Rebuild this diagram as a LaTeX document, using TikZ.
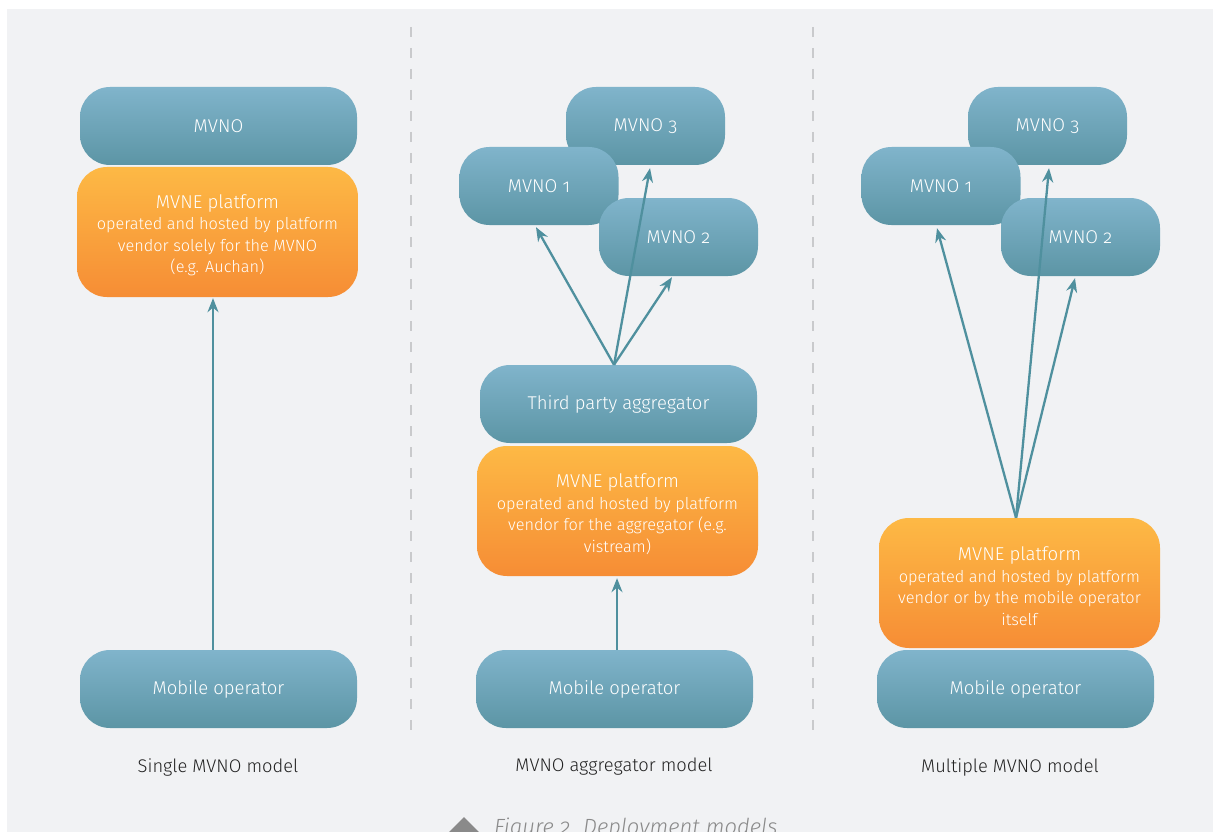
\documentclass[tikz,border=0pt]{standalone}
\usepackage{fontspec}
\setmainfont{Fira Sans Light}[Numbers=OldStyle]
\usetikzlibrary{arrows.meta}
\definecolor{bg}{HTML}{F1F2F4}
\definecolor{btop}{HTML}{80B4CB}
\definecolor{bbot}{HTML}{5C95A5}
\definecolor{otop}{HTML}{FDB945}
\definecolor{obot}{HTML}{F68D35}
\definecolor{arrc}{HTML}{4F909E}
\definecolor{dashc}{HTML}{C9CACC}
\definecolor{capc}{HTML}{222222}
\definecolor{figc}{HTML}{8A8A8A}
\tikzset{
 box/.style={rounded corners=30pt, text=white, align=center, inner sep=0pt, font=\fontsize{18.5}{22}\selectfont},
 bluebox/.style={box, top color=btop, bottom color=bbot, minimum width=277pt, minimum height=78pt},
 smallbox/.style={box, top color=btop, bottom color=bbot, minimum width=159pt, minimum height=78pt},
 orangebox/.style={box, top color=otop, bottom color=obot, minimum width=281pt, minimum height=130pt, font=\fontsize{16.3}{21.5}\selectfont},
 conn/.style={draw=arrc, line width=2.3pt, -{Stealth[length=14pt,width=11pt]}},
 sepline/.style={draw=dashc, line width=2.5pt, dash pattern=on 10pt off 11pt},
 lbl/.style={text=capc, font=\fontsize{18.3}{21}\selectfont},
}
\newcommand{\mvnehead}[1]{{\fontsize{18.6}{24}\selectfont\rule{0pt}{20pt}#1}}
\begin{document}
\begin{tikzpicture}[x=1pt,y=-1pt]
\useasboundingbox (0,0) rectangle (1213,832);
\clip (0,0) rectangle (1213,832);
\fill[white] (0,0) rectangle (1213,832);
\fill[bg] (7,9) rectangle (1213,832);
% separators
\coordinate (d1a) at (411,27); \coordinate (d1b) at (411,735);
\coordinate (d2a) at (813,27); \coordinate (d2b) at (813,735);
\draw[sepline] (d1a) -- (d1b);
\draw[sepline] (d2a) -- (d2b);
% column 1
\node[bluebox] (mv1) at (218.5,126) {MVNO};
\node[orangebox] (mvne1) at (217.5,232) {\mvnehead{MVNE platform}\\operated and hosted by platform\\vendor solely for the MVNO\\(e.g. Auchan)};
\node[bluebox] (mo1) at (218.5,689) {Mobile operator};
\draw[conn] ([xshift=-5.5pt]mo1.north) -- ([xshift=-4.5pt,yshift=-1pt]mvne1.south);
\node[lbl] (l1) at (218,767) {Single MVNO model};
% column 2
\node[smallbox] (mv23) at (645.5,126) {MVNO 3};
\node[smallbox] (mv21) at (539,186) {MVNO 1};
\node[smallbox] (mv22) at (678.5,237) {MVNO 2};
\node[bluebox] (agg) at (618.5,404) {Third party aggregator};
\node[orangebox] (mvne2) at (617.5,511) {\mvnehead{MVNE platform}\\operated and hosted by platform\\vendor for the aggregator (e.g.\\vistream)};
\node[bluebox] (mo2) at (614.5,689) {Mobile operator};
\draw[conn] ([xshift=2.5pt]mo2.north) -- ([xshift=-0.5pt,yshift=-2pt]mvne2.south);
\coordinate (s2) at ([xshift=-4.5pt]agg.north);
\draw[conn] (s2) -- ([xshift=-3pt,yshift=-2pt]mv21.south);
\draw[conn] (s2) -- ([xshift=4.5pt,yshift=-3pt]mv23.south);
\draw[conn] (s2) -- ([xshift=-6.5pt,yshift=-1pt]mv22.south);
\node[lbl] (l2) at (614,767) {MVNO aggregator model};
% column 3
\node[smallbox] (mv33) at (1047.5,126) {MVNO 3};
\node[smallbox] (mv31) at (941,186) {MVNO 1};
\node[smallbox] (mv32) at (1080.5,237) {MVNO 2};
\node[orangebox] (mvne3) at (1019.5,583) {\mvnehead{MVNE platform}\\operated and hosted by platform\\vendor or by the mobile operator\\itself};
\node[bluebox] (mo3) at (1015.5,689) {Mobile operator};
\coordinate (s3) at ([xshift=-3.5pt]mvne3.north);
\draw[conn] (s3) -- ([xshift=-4pt,yshift=-3pt]mv31.south);
\draw[conn] (s3) -- ([xshift=1.5pt,yshift=-3pt]mv33.south);
\draw[conn] (s3) -- ([xshift=-5.5pt,yshift=-2pt]mv32.south);
\node[lbl] (l3) at (1010,767) {Multiple MVNO model};
% caption
\coordinate (t1) at (464,817); \coordinate (t2) at (444,837); \coordinate (t3) at (484,837);
\fill[figc] (t1) -- (t2) -- (t3) -- cycle;
\node[anchor=base west, inner sep=0pt, text=figc, font=\fontsize{22}{25}\selectfont\itshape] (cap) at (494,834) {Figure 2. Deployment models};
\end{tikzpicture}
\end{document}
